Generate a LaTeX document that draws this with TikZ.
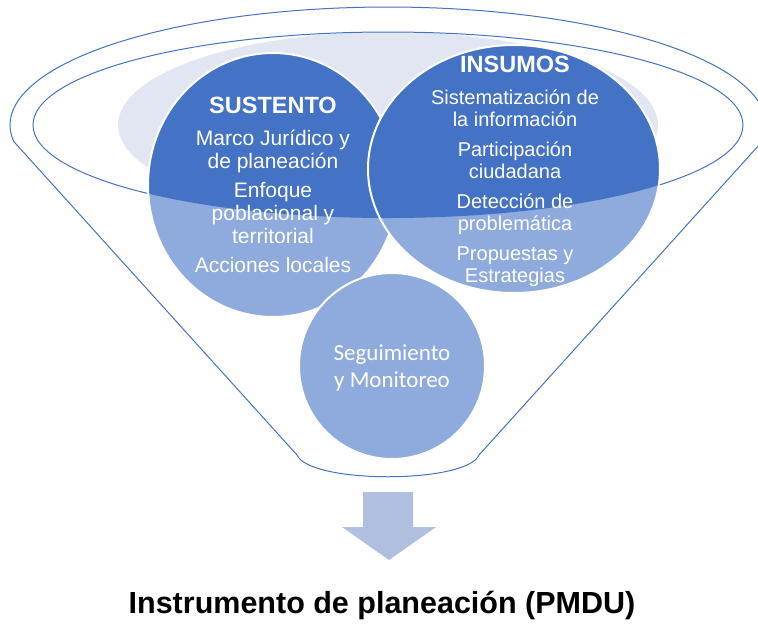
\documentclass[tikz,border=0pt]{standalone}
\usepackage{fontspec}
\setmainfont{Liberation Sans}
\newfontfamily\calibri{Carlito}
\usetikzlibrary{positioning}
\definecolor{darkblue}{HTML}{4472C4}
\definecolor{lightblue}{HTML}{8FAADC}
\definecolor{paleblue}{HTML}{E1E6F2}
\definecolor{arrowblue}{HTML}{B0BEE0}
\tikzset{
  rim/.style={draw=white, line width=2pt},
  head/.style={text=white, anchor=base, inner sep=0pt, font=\bfseries\fontsize{23.5}{26}\selectfont},
  item/.style={text=white, align=center, anchor=base, inner sep=0pt, font=\fontsize{21}{23}\selectfont},
  smallitem/.style={item, font=\fontsize{20}{21.5}\selectfont},
}

\begin{document}
\begin{tikzpicture}[x=1pt,y=-1pt]
\useasboundingbox (0,0) rectangle (758,625);
\fill[paleblue] (388,125) ellipse [x radius=270, y radius=93];
\draw[darkblue, line width=1pt] (297,455) -- plot[domain=172:368, samples=90] ({388+378*cos(\x)},{125+118*sin(\x)})
    -- (479,455) .. controls (466,484) and (310,484) .. (297,455) -- cycle;
\draw[darkblue, line width=1pt] (388,125) ellipse [x radius=355, y radius=93];
\foreach \cx/\cy/\rx/\ry in {273/185/125/132, 514/169/146/124, 392/366/93/93} {
  \fill[lightblue] (\cx,\cy) ellipse [x radius=\rx, y radius=\ry];
  \begin{scope}
    \clip (388,125) ellipse [x radius=355, y radius=93];
    \fill[darkblue] (\cx,\cy) ellipse [x radius=\rx, y radius=\ry];
  \end{scope}
  \draw[rim] (\cx,\cy) ellipse [x radius=\rx, y radius=\ry];
}

\node[head] (sustento) at (273,113) {SUSTENTO};
\node[item] (marco) at (273,168) {Marco Jurídico y\\de planeación};
\node[item] (enfoque) at (273,243) {Enfoque\\poblacional y\\territorial};
\node[item] (acciones) at (273,272) {Acciones locales};

\node[head] (insumos) at (515,72) {INSUMOS};
\node[smallitem] (sistema) at (515,126) {Sistematización de\\la información};
\node[smallitem] (particip) at (515,178) {Participación\\ciudadana};
\node[smallitem] (deteccion) at (515,230) {Detección de\\problemática};
\node[smallitem] (propuestas) at (515,282) {Propuestas y\\Estrategias};

\node[item, font=\calibri\fontsize{23}{27}\selectfont] (seguimiento) at (392,387) {Seguimiento\\y Monitoreo};

\fill[arrowblue] (363,492) -- (413,492) -- (413,527) -- (436,527) -- (389,560) -- (342,527) -- (363,527) -- cycle;
\node[anchor=base, inner sep=0pt, font=\bfseries\fontsize{30.5}{33}\selectfont] (titulo) at (382,613) {Instrumento de planeación (PMDU)};
\end{tikzpicture}
\end{document}
